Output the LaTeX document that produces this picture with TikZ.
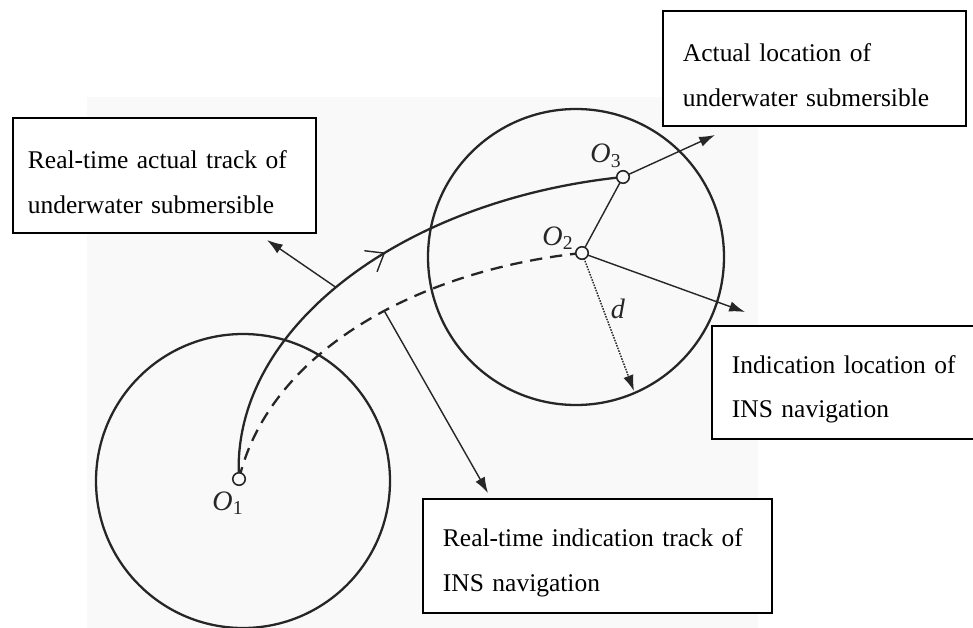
\documentclass[tikz,border=0pt]{standalone}
\usepackage{fontspec}
\setmainfont{Liberation Serif}
\usepackage{amsmath}
\usetikzlibrary{arrows.meta, decorations.markings, positioning}
\definecolor{bggray}{RGB}{249,249,249}
\definecolor{inkgray}{RGB}{38,38,38}
\newcommand{\boxstrut}{\rule{0pt}{18pt}}

\begin{document}
\begin{tikzpicture}[x=0.02cm, y=-0.02cm,
    infobox/.style={draw=black, line width=1.1pt, fill=white, anchor=north west, align=left, inner xsep=0.4cm, font=\fontsize{14.5}{25.5}\selectfont},
    track/.style={inkgray, line width=1.3pt},
    pointer/.style={-{Latex[length=9pt,width=6pt]}, inkgray, line width=0.8pt},
    marker/.style={circle, draw=inkgray, line width=0.9pt, fill=bggray, inner sep=0pt, minimum size=0.25cm},
    olabel/.style={inkgray, font=\fontsize{16}{18}\selectfont\itshape}]
    \clip (0,0) rectangle (973,628);
    % Background
    \fill[bggray] (87,97) rectangle (758,628);
    
    % Centres and free ends
    \coordinate (o1) at (239,479);
    \coordinate (o2) at (582,253);
    \coordinate (o3) at (623,177);
    \coordinate (c1) at (243,481);
    \coordinate (c2) at (576,257);
    \coordinate (dend) at (634,391);
    \coordinate (p1) at (267,240);
    \coordinate (p2) at (745,312);
    \coordinate (p3) at (715,135);
    \coordinate (p4) at (488,493);
    
    % Circles
    \draw[track] (c1) circle[radius=147];
    \draw[track] (c2) circle[radius=148];
    
    % Actual track
    \draw[track, postaction={decorate}, decoration={markings, mark=at position 0.53 with {\arrow[line width=0.8pt]{Straight Barb[length=9pt,width=14pt]}}}]
        (o1) .. controls (230,330) and (400,200) .. (o3) coordinate[pos=0.48] (s1);
    % Indication track
    \draw[track, dash pattern=on 7pt off 4.5pt]
        (o1) .. controls (270,350) and (420,270) .. (o2) coordinate[pos=0.56] (s2);
    
    % Radius d and offset
    \draw[inkgray, line width=0.8pt] (o3) -- (o2);
    \draw[pointer, dash pattern=on 0.9pt off 0.7pt] (o2) -- (dend);
    
    % Pointers to the boxes
    \draw[pointer] (s1) -- (p1);
    \draw[pointer] (o3) -- (p3);
    \draw[pointer] (o2) -- (p2);
    \draw[pointer] (s2) -- (p4);
    
    % Markers and labels
    \node[marker] (m1) at (o1) {};
    \node[marker] (m2) at (o2) {};
    \node[marker] (m3) at (o3) {};
    \node[olabel] (l1) at (228,503) {O\textsubscript{\upshape 1}};
    \node[olabel] (l2) at (558,238) {O\textsubscript{\upshape 2}};
    \node[olabel] (l3) at (606,156) {O\textsubscript{\upshape 3}};
    \node[olabel] (ld) at (618,309) {d};
    
    % Text boxes
    \node[infobox, inner xsep=0.3cm, text width=5.46cm, minimum height=2.3cm] (actualtrack) at (12,117) {\boxstrut Real-time actual track of\\underwater submersible};
    \node[infobox, text width=5.26cm, minimum height=2.3cm] (actualloc) at (662,10) {\boxstrut Actual location of\\underwater submersible};
    \node[infobox, text width=4.8cm, minimum height=2.26cm] (insloc) at (711,325) {\boxstrut Indication location of\\INS navigation};
    \node[infobox, text width=6.18cm, minimum height=2.28cm] (instrack) at (422,498) {\boxstrut Real-time indication track of\\INS navigation};
\end{tikzpicture}
\end{document}
